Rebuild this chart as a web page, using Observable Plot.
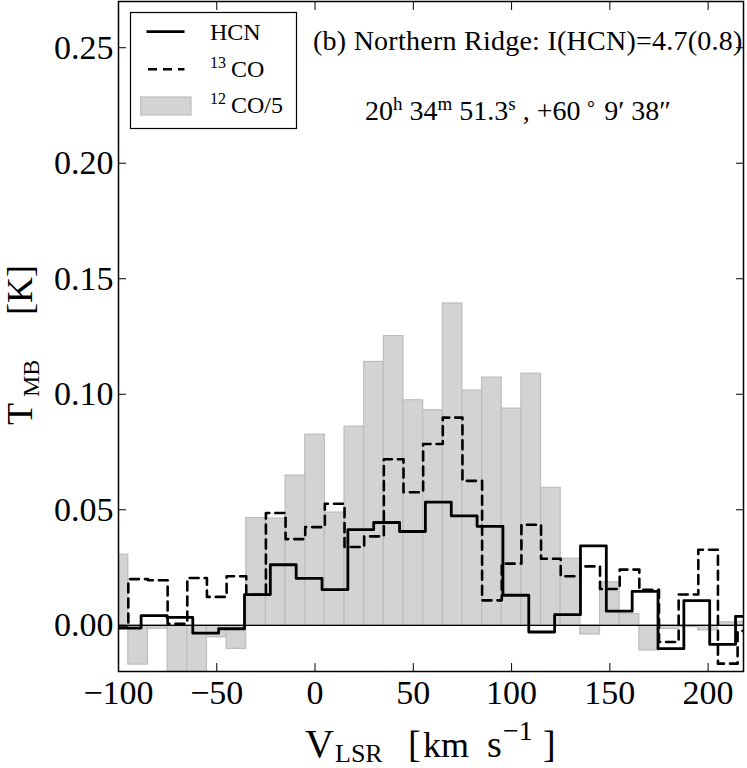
<!DOCTYPE html>
<html><head><meta charset="utf-8">
<script src="https://cdn.jsdelivr.net/npm/d3@7"></script>
<script src="https://cdn.jsdelivr.net/npm/@observablehq/plot@0.6"></script>
<style>body{margin:0;background:#fff}</style>
</head><body><div id="chart"></div>
<script>
// 12CO/5 channels (km/s centres) and brightness (K)
const co12V = [-100,-90,-80,-70,-60,-50,-40,-30,-20,-10,0,10,20,30,40,50,60,70,80,90,100,110,120,130,140,150,160,170,180,190,200,210,220];
const co12T = [0.0306,-0.0170,-0.0015,-0.0300,-0.0300,-0.0052,-0.0102,0.0464,0.0462,0.0648,0.0825,0.0488,0.0860,0.1140,0.1252,0.0974,0.0931,0.1393,0.1016,0.1072,0.0938,0.1089,0.0595,0.0288,-0.0040,0.0186,0.0049,-0.0109,-0.0016,-0.0008,-0.0022,0.0013,0.0015];
// 13CO
const co13V = [-100,-90,-80,-70,-60,-50,-40,-30,-20,-10,0,10,20,30,40,50,60,70,80,90,100,110,120,130,140,150,160,170,180,190,200,210,220];
const co13T = [-0.0010,0.0200,0.0195,0.0007,0.0205,0.0123,0.0212,0.0133,0.0486,0.0373,0.0425,0.0526,0.0339,0.0385,0.0719,0.0576,0.0785,0.0899,0.0625,0.0108,0.0267,0.0435,0.0288,0.0212,0.0255,0.0157,0.0241,0.0154,-0.0072,0.0133,0.0327,-0.0166,-0.0025];
// HCN
const hcnV = [-108.3,-95.1,-81.9,-68.8,-55.6,-42.5,-29.3,-16.2,-3.0,10.1,23.3,36.4,49.6,62.7,75.9,89.0,102.2,115.3,128.5,141.6,154.8,167.9,181.1,194.2,207.4,220.5];
const hcnT = [-0.0012,-0.0012,0.0042,0.0034,-0.0034,-0.0015,0.0133,0.0262,0.0203,0.0154,0.0414,0.0445,0.0406,0.0533,0.0474,0.0428,0.0130,-0.0029,0.0046,0.0344,0.0061,0.0147,-0.0101,0.0107,-0.0083,0.0039];

const xTicks = [-100,-50,0,50,100,150,200];
const yTicks = [0,0.05,0.10,0.15,0.20,0.25];
const binWidth = 10;

const co12 = co12V.map((v,i)=>({v, t: co12T[i]}));
const co13 = co13V.map((v,i)=>({v, t: co13T[i]}));
const hcn = hcnV.map((v,i)=>({v, t: hcnT[i]}));

const serif = "'Liberation Serif','Times New Roman',serif";
const fmtX = d => (d < 0 ? "\u2212" + Math.abs(d) : String(d));
const blank = () => "";

const plot = Plot.plot({
  width: 747, height: 768,
  marginLeft: 118, marginRight: 4, marginTop: 1, marginBottom: 97,
  x: {domain: [-100, 218]},
  y: {domain: [-0.02, 0.27]},
  style: {fontFamily: serif, fontSize: "34px", background: "white", color: "black", overflow: "hidden"},
  marks: [
    Plot.rect(co12, {x1: d => d.v - binWidth/2, x2: d => d.v + binWidth/2, y1: 0, y2: "t", fill: "#d3d3d3", stroke: "#bdbdbd", strokeWidth: 1.2, clip: true}),
    Plot.ruleY([0], {stroke: "black", strokeWidth: 1.2}),
    Plot.line(co13, {x: "v", y: "t", curve: "step", stroke: "black", strokeWidth: 2.6, strokeDasharray: "9,6", clip: true}),
    Plot.line(hcn, {x: "v", y: "t", curve: "step", stroke: "black", strokeWidth: 2.8, clip: true}),
    Plot.frame({stroke: "black", strokeWidth: 1.5}),
    Plot.axisX({ticks: xTicks, anchor: "bottom", tickSize: 0, tickPadding: 8, tickFormat: fmtX, label: null, fontSize: 34}),
    Plot.axisX({ticks: xTicks, anchor: "bottom", tickSize: -8, tickFormat: blank, label: null}),
    Plot.axisX({ticks: xTicks, anchor: "top", tickSize: -8, tickFormat: blank, label: null}),
    Plot.axisY({ticks: yTicks, anchor: "left", tickSize: 0, tickPadding: 5, tickFormat: d3.format(".2f"), label: null, fontSize: 34}),
    Plot.axisY({ticks: yTicks, anchor: "left", tickSize: -8, tickFormat: blank, label: null}),
    Plot.axisY({ticks: yTicks, anchor: "right", tickSize: -8, tickFormat: blank, label: null})
  ]
});
document.getElementById("chart").appendChild(plot);

const svg = d3.select(plot);
const g = svg.append("g").attr("font-family", serif).attr("fill", "black").attr("text-anchor", "start");

// Legend
const lg = g.append("g");
lg.append("rect").attr("x", 130.5).attr("y", 12.5).attr("width", 166).attr("height", 116)
  .attr("fill", "white").attr("stroke", "black").attr("stroke-width", 1.2);
lg.append("line").attr("x1", 146.5).attr("x2", 184.5).attr("y1", 31.7).attr("y2", 31.7)
  .attr("stroke", "black").attr("stroke-width", 2.8);
lg.append("line").attr("x1", 148).attr("x2", 184.5).attr("y1", 69.3).attr("y2", 69.3)
  .attr("stroke", "black").attr("stroke-width", 2.6).attr("stroke-dasharray", "9,6");
lg.append("rect").attr("x", 140.7).attr("y", 97).attr("width", 50.3).attr("height", 18)
  .attr("fill", "#d3d3d3").attr("stroke", "#bdbdbd").attr("stroke-width", 1.2);
lg.append("text").attr("x", 210).attr("y", 40).attr("font-size", 24).text("HCN");
const t13 = lg.append("text").attr("x", 210).attr("y", 77).attr("font-size", 24);
t13.append("tspan").attr("font-size", 16).attr("dy", -9).text("13");
t13.append("tspan").attr("x", 231).attr("dy", 9).text("CO");
const t12 = lg.append("text").attr("x", 210).attr("y", 113).attr("font-size", 24);
t12.append("tspan").attr("font-size", 16).attr("dy", -9).text("12");
t12.append("tspan").attr("x", 231).attr("dy", 9).text("CO/5");

// Panel title
g.append("text").attr("x", 313).attr("y", 50).attr("font-size", 28).attr("letter-spacing", 0.25)
  .text("(b) Northern Ridge: I(HCN)=4.7(0.8)");

// Coordinates
const ct = g.append("text").attr("x", 365).attr("y", 120).attr("font-size", 28);
const sup = (s) => { ct.append("tspan").attr("font-size", 19).attr("dy", -10).text(s); };
const nrm = (s) => { ct.append("tspan").attr("dy", 10).text(s); };
ct.append("tspan").text("20");
sup("h"); nrm(" 34");
sup("m"); nrm(" 51.3");
sup("s"); nrm(" , +60");
sup(" \u2218"); nrm(" 9\u2032 38\u2033");

// X axis label
const xl = g.append("text").attr("y", 757).attr("font-size", 40);
xl.append("tspan").attr("x", 305).text("V");
xl.append("tspan").attr("x", 335).attr("dy", 5).attr("font-size", 26).text("LSR");
xl.append("tspan").attr("x", 408).attr("dy", -5).attr("font-size", 38).text("[");
xl.append("tspan").attr("x", 423).attr("font-size", 36).text("km");
xl.append("tspan").attr("x", 487).attr("font-size", 38).text("s");
xl.append("tspan").attr("x", 503).attr("dy", -17).attr("font-size", 28).text("\u22121");
xl.append("tspan").attr("x", 543).attr("dy", 17).attr("font-size", 38).text("]");

// Y axis label
const yl = g.append("text").attr("transform", "translate(32,425) rotate(-90)").attr("font-size", 36);
yl.append("tspan").attr("x", 0).text("T");
yl.append("tspan").attr("x", 28).attr("dy", 7).attr("font-size", 24).text("MB");
yl.append("tspan").attr("x", 110).attr("dy", -7).attr("font-size", 36).text("[K]");
</script>
</body></html>
